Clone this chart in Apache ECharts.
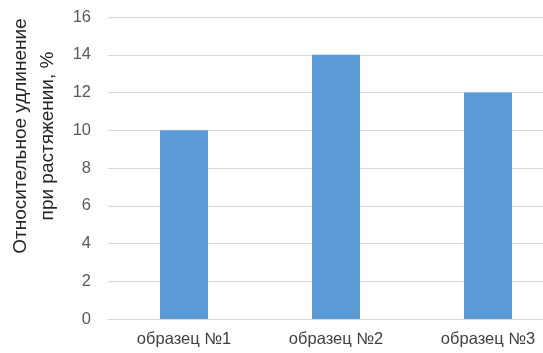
<!DOCTYPE html>
<html>
<head>
<meta charset="utf-8">
<script src="https://cdn.jsdelivr.net/npm/echarts@6/dist/echarts.min.js"></script>
<style>
  html, body { margin: 0; padding: 0; background: #fff; overflow: hidden; }
  #wrap { width: 543px; height: 353px; overflow: hidden; }
  /* plot area continues past the right edge of the visible frame */
  #chart { width: 564px; height: 353px; }
</style>
</head>
<body>
<div id="wrap"><div id="chart"></div></div>
<script>
// Samples and their relative elongation at break, %
const categories = ['образец №1', 'образец №2', 'образец №3'];
const elongation = [10, 14, 12];
const yTicks = { min: 0, max: 16, interval: 2 };
const yTitle = 'Относительное удлинение\nпри растяжении, %';

const chart = echarts.init(document.getElementById('chart'), null, { renderer: 'canvas' });
const font = "'Liberation Sans', Arial, sans-serif";

chart.setOption({
  animation: false,
  grid: { left: 108, top: 17, right: 0, bottom: 34, containLabel: false, outerBoundsMode: 'none' },
  xAxis: {
    type: 'category',
    data: categories,
    axisLine: { lineStyle: { color: '#d9d9d9', width: 1 } },
    axisTick: { show: false },
    axisLabel: { color: '#404040', fontSize: 16.5, fontFamily: font, margin: 12 }
  },
  yAxis: {
    type: 'value',
    min: yTicks.min,
    max: yTicks.max,
    interval: yTicks.interval,
    name: yTitle,
    nameLocation: 'middle',
    nameGap: 39,
    nameRotate: 90,
    nameTextStyle: {
      color: '#262626', fontSize: 19, fontFamily: font, lineHeight: 27,
      align: 'center', padding: [0, 0, 0, 64]
    },
    axisLine: { show: false },
    axisTick: { show: false },
    axisLabel: { color: '#595959', fontSize: 16.5, fontFamily: font, margin: 17 },
    splitLine: { lineStyle: { color: '#d9d9d9', width: 1 } }
  },
  series: [{
    type: 'bar',
    data: elongation,
    barWidth: 48,
    itemStyle: { color: '#5b9bd5' }
  }]
});
</script>
</body>
</html>
